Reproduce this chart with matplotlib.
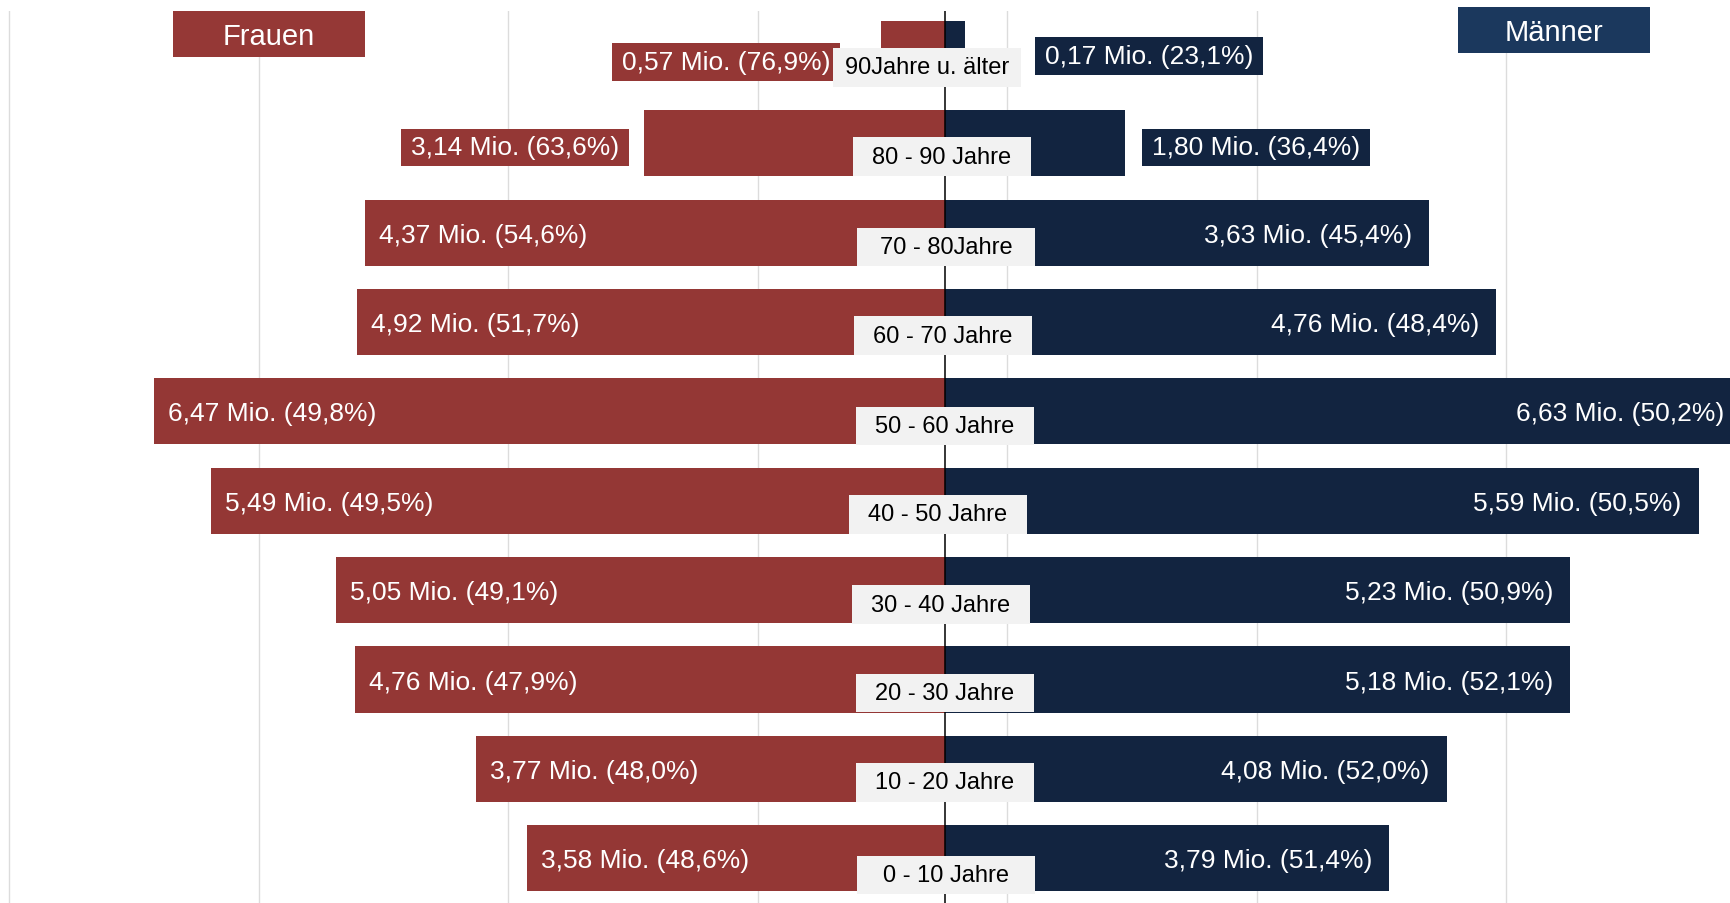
import matplotlib
matplotlib.use("Agg")
from matplotlib import pyplot as plt
from matplotlib.patches import Rectangle
import numpy as np

plt.rcParams["font.family"] = ["Liberation Sans", "DejaVu Sans"]

# Altersgruppen von oben nach unten
altersgruppen = ["90Jahre u. älter", "80 - 90 Jahre", "70 - 80Jahre", "60 - 70 Jahre",
                 "50 - 60 Jahre", "40 - 50 Jahre", "30 - 40 Jahre", "20 - 30 Jahre",
                 "10 - 20 Jahre", "0 - 10 Jahre"]
frauen_mio = [0.57, 3.14, 4.37, 4.92, 6.47, 5.49, 5.05, 4.76, 3.77, 3.58]
frauen_pct = [76.9, 63.6, 54.6, 51.7, 49.8, 49.5, 49.1, 47.9, 48.0, 48.6]
maenner_mio = [0.17, 1.80, 3.63, 4.76, 6.63, 5.59, 5.23, 5.18, 4.08, 3.79]
maenner_pct = [23.1, 36.4, 45.4, 48.4, 50.2, 50.5, 50.9, 52.1, 52.0, 51.4]

# Balkenlaengen wie im Bild gezeichnet (Mio.)
bar_frauen = [0.51, 2.41, 4.65, 4.71, 6.34, 5.88, 4.88, 4.73, 3.76, 3.35]
bar_maenner = [0.16, 1.44, 3.88, 4.42, 6.38, 6.04, 5.01, 5.01, 4.02, 3.56]

ROT = "#943735"
NAVY = "#122440"
NAVY_HELL = "#1b385d"
GRAU = "#f2f2f2"

W, H = 1731, 904

# kleine Verschiebung der grauen Kaestchen (Pixel)
label_dx = [-18, -3, 1, -2, 0, -7, -4, 0, 0, 1]
label_dy = [-1, -1, -2, -1, -2, -1, -2, -1, -1, -4]


def fmt(mio, pct):
    return f"{mio:.2f}".replace(".", ",") + " Mio. (" + f"{pct:.1f}".replace(".", ",") + "%)"


def box_behind(fig, ax, txt, color, padx, h, z, min_w=0):
    """Rechteck hinter einen Text legen (Pixel-Abstaende)."""
    renderer = fig.canvas.get_renderer()
    bb = txt.get_window_extent(renderer)
    cx = (bb.x0 + bb.x1) / 2
    cy = (bb.y0 + bb.y1) / 2
    w = max(bb.width + 2 * padx, min_w)
    inv = ax.transData.inverted()
    x0, y0 = inv.transform((cx - w / 2, cy - h / 2))
    x1, y1 = inv.transform((cx + w / 2, cy + h / 2))
    ax.add_patch(Rectangle((x0, y0), x1 - x0, y1 - y0, color=color, zorder=z, lw=0))


fig = plt.figure(figsize=(W / 100, H / 100), dpi=100)
fig.patch.set_facecolor("white")
ax = fig.add_axes([0, 0, 1, (H - 12) / H])

y = np.arange(len(altersgruppen))
ax.barh(y, -np.array(bar_frauen), height=0.74, color=ROT, zorder=2)
ax.barh(y, bar_maenner, height=0.74, color=NAVY, zorder=2)

ax.set_xticks(np.arange(-7.5, 6.6, 2))
ax.set_xlim(-7.575, 6.30)
ax.set_ylim(9.50, -0.48)
ax.grid(axis="x", color="#dcdcdc", lw=1, zorder=0)
ax.grid(axis="y", visible=False)
ax.tick_params(length=0, labelbottom=False, labelleft=False)
for s in ax.spines.values():
    s.set_visible(False)
ax.axvline(0, color="black", lw=1.1, zorder=3)

# Beschriftungen der Werte
aussen_f = {0: (-51, -8), 1: (-25, -4)}
aussen_m = {0: (80, -2), 1: (27, -4)}
boxen = []
for i in y:
    tf = fmt(frauen_mio[i], frauen_pct[i])
    tm = fmt(maenner_mio[i], maenner_pct[i])
    if i in aussen_f:
        t = ax.annotate(tf, xy=(-bar_frauen[i], i), xytext=aussen_f[i], textcoords="offset pixels",
                        ha="right", va="center", color="white", fontsize=19, zorder=5)
        boxen.append((t, ROT, 10, 37.5, 4, 0))
    else:
        ax.annotate(tf, xy=(-bar_frauen[i], i), xytext=(14, -2), textcoords="offset pixels",
                    ha="left", va="center", color="white", fontsize=19, zorder=5,
                    annotation_clip=False)
    if i in aussen_m:
        t = ax.annotate(tm, xy=(bar_maenner[i], i), xytext=aussen_m[i], textcoords="offset pixels",
                        ha="left", va="center", color="white", fontsize=19, zorder=5)
        boxen.append((t, NAVY, 10, 37.5, 4, 0))
    else:
        ax.annotate(tm, xy=(bar_maenner[i], i), xytext=(-17, -2), textcoords="offset pixels",
                    ha="right", va="center", color="white", fontsize=19, zorder=5,
                    annotation_clip=False)

# Altersgruppen in grauen Kaestchen
for i, name in enumerate(altersgruppen):
    t = ax.annotate(name, xy=(0, i + 0.14), xytext=(label_dx[i], label_dy[i]),
                    textcoords="offset pixels", ha="center", va="center",
                    color="black", fontsize=17, zorder=7)
    boxen.append((t, GRAU, 12, 38.6, 6, 178))

fig.canvas.draw()
for t, c, px, h, z, mw in boxen:
    box_behind(fig, ax, t, c, px, h, z, mw)

# Kopfzeilen
for label, x0, y0, farbe in [("Frauen", 173, 12, "#953836"), ("Männer", 1458, 8, NAVY_HELL)]:
    fig.add_artist(Rectangle((x0 / W, 1 - (y0 + 46) / H), 192 / W, 46 / H,
                             transform=fig.transFigure, color=farbe, lw=0, zorder=5))
    fig.text((x0 + 96) / W, 1 - (y0 + 25) / H, label, ha="center", va="center",
             color="white", fontsize=21, zorder=6)

fig.savefig("out.png", dpi=100)
